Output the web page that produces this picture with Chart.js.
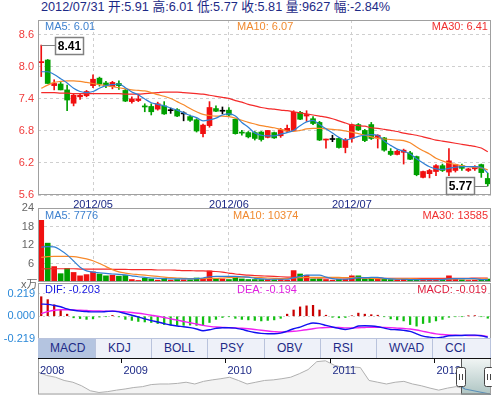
<!DOCTYPE html>
<html>
<head>
<meta charset="utf-8">
<script src="https://cdn.jsdelivr.net/npm/chart.js@4.4.1/dist/chart.umd.min.js"></script>
<style>
  body { margin: 0; background: #fff; }
  #wrap { position: relative; width: 492px; height: 396px; overflow: hidden;
          font-family: "Liberation Sans", Arial, "Noto Sans CJK SC", sans-serif; }
  #wrap canvas { position: absolute; left: 0; }
  .lbl { position: absolute; font-size: 11px; line-height: 11px; white-space: nowrap; }
  #head { position: absolute; left: 41px; top: 1px; font-size: 12.7px; line-height: 13px;
          color: #1d2a86; white-space: nowrap; }
  #tabs { position: absolute; left: 38px; top: 338px; height: 19px; display: flex;
          border-top: 1px solid #b9c3dc; background: #eef1f9; }
  #tabs div { box-sizing: border-box; height: 19px; padding-left: 12px; font-size: 12px;
              line-height: 19px; color: #1d2a86; border-right: 1px solid #b9c3dc; }
  #tabs div.on { background: #b4c4e0; }
</style>
</head>
<body>
<div id="wrap">
  <div id="head">2012/07/31 开:5.91 高:6.01 低:5.77 收:5.81 量:9627 幅:-2.84%</div>
  <canvas id="price" width="492" height="195" style="top:14px"></canvas>
  <canvas id="vol" width="492" height="84" style="top:200px"></canvas>
  <canvas id="macd" width="492" height="66" style="top:278px"></canvas>
  <canvas id="nav" width="492" height="37" style="top:358px"></canvas>
  <div class="lbl" style="left:45px;top:21px;color:#3f82cf">MA5: 6.01</div>
  <div class="lbl" style="left:237px;top:21px;color:#f08a30">MA10: 6.07</div>
  <div class="lbl" style="right:4px;top:21px;color:#f03030">MA30: 6.41</div>
  <div class="lbl" style="left:45px;top:210px;color:#3f82cf">MA5: 7776</div>
  <div class="lbl" style="left:233px;top:210px;color:#f08a30">MA10: 10374</div>
  <div class="lbl" style="right:4px;top:210px;color:#f03030">MA30: 13585</div>
  <div class="lbl" style="left:21px;top:279px;color:#666">x万</div>
  <div class="lbl" style="left:45px;top:284px;color:#1515e0">DIF: -0.203</div>
  <div class="lbl" style="left:237px;top:284px;color:#e020e0">DEA: -0.194</div>
  <div class="lbl" style="right:5px;top:284px;color:#e02040">MACD: -0.019</div>
  <div id="tabs"></div>
</div>
<script>
// trading days shown, grouped by month
const months = ['2012/04', '2012/05', '2012/06', '2012/07'];
const tradingDays = [8, 21, 19, 22];

const opens  = [8.08, 8.13, 7.65, 7.68, 7.57, 7.32, 7.44, 7.46, 7.65, 7.79, 7.70, 7.63, 7.69, 7.56, 7.35, 7.37, 7.27, 7.26, 7.21, 7.27,
                7.18, 7.20, 7.12, 7.07, 7.01, 6.75, 6.90, 7.22, 7.17, 7.19, 7.02, 6.77, 6.77, 6.77, 6.78, 6.68, 6.77, 6.71, 6.80, 6.81,
                7.15, 7.08, 7.03, 6.96, 6.63, 6.64, 6.66, 6.49, 6.66, 6.92, 6.81, 6.92, 6.68, 6.67, 6.42, 6.36, 6.40, 6.39, 6.32, 5.93,
                6.00, 6.04, 6.15, 6.03, 6.06, 6.15, 6.06, 6.09, 6.17, 5.91];
const highs  = [8.41, 8.14, 7.76, 7.71, 7.66, 7.50, 7.50, 7.56, 7.85, 7.81, 7.73, 7.73, 7.74, 7.58, 7.44, 7.49, 7.31, 7.31, 7.34, 7.35,
                7.23, 7.22, 7.16, 7.10, 7.03, 6.93, 7.35, 7.27, 7.25, 7.24, 7.03, 6.81, 6.79, 6.79, 6.79, 6.81, 6.78, 6.85, 6.91, 7.18,
                7.17, 7.18, 7.07, 6.98, 6.65, 6.72, 6.67, 6.66, 6.93, 6.94, 6.83, 6.96, 6.73, 6.68, 6.47, 6.44, 6.46, 6.42, 6.33, 6.05,
                6.08, 6.17, 6.18, 6.47, 6.18, 6.18, 6.10, 6.15, 6.18, 6.01];
const lows   = [7.82, 7.69, 7.57, 7.57, 7.18, 7.27, 7.39, 7.44, 7.61, 7.64, 7.61, 7.59, 7.58, 7.35, 7.32, 7.35, 7.16, 7.10, 7.19, 7.11,
                7.13, 7.07, 6.99, 6.98, 6.78, 6.69, 6.87, 7.16, 7.12, 7.08, 6.74, 6.72, 6.67, 6.63, 6.61, 6.67, 6.66, 6.68, 6.77, 6.81,
                7.01, 6.98, 6.92, 6.62, 6.48, 6.60, 6.48, 6.39, 6.59, 6.81, 6.60, 6.64, 6.48, 6.42, 6.34, 6.35, 6.18, 6.26, 5.96, 5.92,
                5.92, 5.96, 6.04, 5.96, 6.03, 6.06, 6.04, 6.06, 5.93, 5.77];
const closes = [8.10, 7.69, 7.69, 7.57, 7.38, 7.47, 7.47, 7.54, 7.77, 7.68, 7.65, 7.71, 7.65, 7.36, 7.40, 7.40, 7.25, 7.16, 7.31, 7.12,
                7.18, 7.08, 7.12, 7.00, 6.80, 6.91, 7.24, 7.17, 7.17, 7.10, 6.75, 6.76, 6.69, 6.66, 6.64, 6.81, 6.67, 6.82, 6.85, 7.15,
                7.02, 7.11, 6.94, 6.63, 6.64, 6.64, 6.49, 6.63, 6.92, 6.82, 6.62, 6.66, 6.72, 6.44, 6.36, 6.42, 6.44, 6.27, 5.98, 6.04,
                6.06, 6.15, 6.06, 6.24, 6.17, 6.10, 6.09, 6.13, 6.02, 5.81];

const ma5  = [7.91, 7.91, 7.86, 7.78, 7.70, 7.60, 7.54, 7.52, 7.54, 7.60, 7.65, 7.67, 7.68, 7.61, 7.53, 7.48, 7.40, 7.33, 7.30, 7.27,
              7.23, 7.19, 7.14, 7.09, 7.05, 6.99, 7.01, 7.04, 7.10, 7.12, 7.08, 6.96, 6.87, 6.76, 6.72, 6.71, 6.71, 6.74, 6.77, 6.81,
              6.90, 6.97, 7.00, 6.92, 6.84, 6.76, 6.68, 6.63, 6.66, 6.70, 6.72, 6.73, 6.72, 6.61, 6.53, 6.46, 6.42, 6.37, 6.28, 6.20,
              6.13, 6.09, 6.08, 6.10, 6.12, 6.13, 6.13, 6.13, 6.12, 6.01];
const ma10 = [7.60, 7.66, 7.71, 7.73, 7.74, 7.74, 7.73, 7.71, 7.69, 7.67, 7.65, 7.63, 7.61, 7.59, 7.57, 7.56, 7.55, 7.52, 7.48, 7.45,
              7.41, 7.35, 7.29, 7.22, 7.16, 7.11, 7.09, 7.08, 7.08, 7.07, 7.04, 7.00, 6.96, 6.93, 6.90, 6.88, 6.86, 6.83, 6.80, 6.79,
              6.81, 6.84, 6.85, 6.85, 6.84, 6.83, 6.82, 6.80, 6.78, 6.75, 6.72, 6.69, 6.66, 6.65, 6.64, 6.63, 6.62, 6.58, 6.50, 6.43,
              6.37, 6.29, 6.24, 6.20, 6.17, 6.15, 6.13, 6.12, 6.11, 6.07];
const ma30 = [7.52, 7.52, 7.52, 7.51, 7.51, 7.50, 7.50, 7.50, 7.50, 7.50, 7.50, 7.50, 7.50, 7.49, 7.49, 7.49, 7.50, 7.51, 7.52, 7.53,
              7.53, 7.53, 7.52, 7.51, 7.50, 7.49, 7.47, 7.45, 7.43, 7.41, 7.37, 7.34, 7.30, 7.27, 7.24, 7.22, 7.21, 7.19, 7.18, 7.16,
              7.14, 7.12, 7.10, 7.08, 7.06, 7.03, 6.99, 6.95, 6.91, 6.90, 6.89, 6.86, 6.85, 6.83, 6.81, 6.79, 6.76, 6.74, 6.72, 6.69,
              6.66, 6.63, 6.61, 6.59, 6.57, 6.55, 6.53, 6.51, 6.48, 6.41];

// volume, in 万
const volume = [20.0, 12.6, 5.0, 2.7, 4.4, 3.1, 2.0, 2.4, 3.3, 2.6, 2.0, 2.2, 1.9, 2.1, 0.8, 0.5, 1.2, 1.0, 0.6, 1.2,
                0.6, 0.8, 0.7, 0.7, 1.3, 1.0, 3.6, 1.2, 1.0, 0.8, 1.8, 1.0, 0.8, 0.8, 0.8, 0.8, 0.7, 0.8, 0.6, 3.7,
                2.6, 2.2, 1.0, 1.0, 0.8, 0.6, 0.9, 0.9, 2.0, 2.0, 1.0, 1.2, 0.9, 1.0, 0.8, 0.7, 0.9, 0.8, 1.0, 0.7,
                0.6, 0.8, 0.8, 2.0, 1.2, 0.7, 0.5, 0.6, 0.8, 0.96];
const volMa5  = [11.3, 11.5, 11.4, 10.3, 8.8, 6.8, 4.8, 3.6, 3.2, 3.0, 2.8, 2.6, 2.5, 2.3, 2.0, 1.7, 1.5, 1.3, 1.2, 1.1,
                 1.0, 1.0, 1.0, 1.0, 1.1, 1.3, 1.7, 1.8, 1.8, 1.8, 1.8, 1.7, 1.6, 1.2, 1.0, 0.9, 0.9, 0.9, 0.9, 1.4,
                 1.8, 2.2, 2.2, 2.2, 1.6, 1.1, 0.9, 0.9, 1.1, 1.4, 1.4, 1.5, 1.5, 1.2, 1.0, 0.9, 0.9, 0.8, 0.8, 0.8,
                 0.8, 0.8, 0.8, 1.0, 1.1, 1.1, 1.1, 1.1, 0.8, 0.78];
const volMa10 = [8.0, 8.2, 8.3, 8.3, 8.3, 8.2, 7.9, 7.5, 6.9, 6.0, 5.0, 4.0, 3.3, 2.9, 2.6, 2.4, 2.2, 2.0, 1.8, 1.6,
                 1.4, 1.3, 1.2, 1.1, 1.1, 1.1, 1.2, 1.2, 1.3, 1.4, 1.5, 1.6, 1.6, 1.5, 1.4, 1.3, 1.2, 1.1, 1.1, 1.3,
                 1.4, 1.5, 1.5, 1.5, 1.5, 1.5, 1.5, 1.4, 1.4, 1.5, 1.4, 1.2, 1.1, 1.1, 1.1, 1.1, 1.1, 1.1, 1.0, 0.9,
                 0.9, 0.9, 0.9, 0.9, 1.0, 1.0, 1.0, 1.0, 1.0, 1.0];
const volMa30 = [4.2, 4.3, 4.3, 4.3, 4.3, 4.3, 4.2, 4.2, 4.2, 4.2, 4.2, 4.1, 4.1, 4.1, 4.0, 4.0, 4.0, 4.0, 3.9, 3.9,
                 3.9, 3.8, 3.7, 3.7, 3.6, 3.6, 3.5, 3.4, 3.2, 2.9, 2.6, 2.4, 2.2, 2.1, 2.0, 1.9, 1.8, 1.7, 1.6, 1.5,
                 1.4, 1.4, 1.4, 1.3, 1.3, 1.3, 1.3, 1.3, 1.3, 1.3, 1.3, 1.3, 1.3, 1.2, 1.2, 1.2, 1.2, 1.2, 1.2, 1.2,
                 1.2, 1.2, 1.2, 1.2, 1.2, 1.2, 1.2, 1.3, 1.3, 1.3];

const dif  = [0.117, 0.114, 0.104, 0.091, 0.071, 0.058, 0.049, 0.045, 0.042, 0.042, 0.045, 0.049, 0.042, 0.026, 0.010, -0.006, -0.026, -0.042, -0.055, -0.071,
              -0.084, -0.094, -0.101, -0.110, -0.123, -0.139, -0.130, -0.117, -0.110, -0.110, -0.114, -0.127, -0.143, -0.156, -0.165, -0.169, -0.169, -0.162, -0.143, -0.120,
              -0.104, -0.081, -0.065, -0.071, -0.088, -0.104, -0.117, -0.127, -0.117, -0.094, -0.091, -0.094, -0.101, -0.114, -0.127, -0.130, -0.136, -0.146, -0.169, -0.191,
              -0.201, -0.208, -0.201, -0.188, -0.185, -0.185, -0.182, -0.182, -0.188, -0.203];
const dea  = [0.026, 0.045, 0.058, 0.062, 0.062, 0.060, 0.058, 0.055, 0.052, 0.050, 0.049, 0.048, 0.047, 0.042, 0.036, 0.029, 0.020, 0.010, 0.000, -0.012,
              -0.025, -0.037, -0.050, -0.062, -0.075, -0.088, -0.097, -0.104, -0.107, -0.110, -0.112, -0.115, -0.120, -0.127, -0.135, -0.142, -0.148, -0.152, -0.150, -0.145,
              -0.138, -0.130, -0.120, -0.112, -0.108, -0.107, -0.108, -0.112, -0.113, -0.111, -0.108, -0.106, -0.106, -0.107, -0.110, -0.114, -0.118, -0.123, -0.132, -0.145,
              -0.158, -0.170, -0.176, -0.180, -0.183, -0.184, -0.185, -0.185, -0.186, -0.194];
const macdHist = [0.188, 0.160, 0.110, 0.060, 0.020, -0.015, -0.022, -0.030, -0.025, -0.008, -0.004, 0.008, -0.006, -0.030, -0.040, -0.050, -0.055, -0.060, -0.070, -0.080,
                  -0.085, -0.088, -0.088, -0.085, -0.088, -0.090, -0.060, -0.030, -0.012, -0.005, -0.020, -0.030, -0.035, -0.040, -0.045, -0.040, -0.035, -0.020, 0.020, 0.060,
                  0.090, 0.100, 0.105, 0.060, 0.010, -0.010, -0.015, -0.012, 0.005, 0.030, 0.020, 0.015, 0.010, -0.005, -0.025, -0.035, -0.045, -0.080, -0.095, -0.070,
                  -0.060, -0.045, -0.030, -0.010, -0.005, -0.004, 0.004, 0.006, -0.004, -0.019];

const priceTicks = [5.6, 6.2, 6.8, 7.4, 8.0, 8.6];
const volTicks = [0, 6, 12, 18, 24];
const macdTicks = [-0.219, 0, 0.219];
const tabNames = ['MACD', 'KDJ', 'BOLL', 'PSY', 'OBV', 'RSI', 'WVAD', 'CCI'];
const tabWidths = [58, 56, 56, 57, 56, 56, 56, 58];

// overview strip: monthly close from 2008/03 to 2012/07
const navStart = [2008, 3];
const navClose = [13.4, 12.2, 11.6, 10.5, 9.9, 8.7, 7.0, 6.4, 6.7, 7.2, 7.6, 8.1, 8.4, 9.1, 9.3, 9.3, 9.5, 9.9, 9.3, 10.2,
                  10.7, 11.1, 11.6, 10.5, 9.3, 9.9, 10.5, 10.7, 11.1, 11.6, 12.8, 14.2, 16.9, 17.2, 15.7, 14.9, 15.1, 14.9, 10.5, 9.9,
                  9.3, 9.9, 10.2, 9.3, 8.7, 7.9, 7.2, 7.9, 8.4, 7.6, 7.0, 6.4, 5.8];
const navWindowStart = 48.6;

const RED = '#f01010', GREEN = '#00a000', BLACK = '#000';
const categories = [];
months.forEach((m, k) => { for (let d = 0; d < tradingDays[k]; d++) categories.push(m); });
const isMonthStart = i => i > 0 && categories[i] !== categories[i - 1];
const candleColors = closes.map((c, i) => c > opens[i] ? RED : c < opens[i] ? GREEN : BLACK);
const volColors = closes.map((c, i) => c >= opens[i] ? RED : GREEN);

Chart.defaults.font.family = '"Liberation Sans", Arial, sans-serif';
Chart.defaults.font.size = 11;

const noPad = w => s => { s.width = w; s.paddingTop = 0; s.paddingBottom = 0; };
const hideX = s => { s.height = 0; s.paddingLeft = 0; s.paddingRight = 0; };
const base = {
    responsive: false, animation: false, events: [], devicePixelRatio: 1,
    plugins: { legend: { display: false }, tooltip: { enabled: false } }
};

const frame = {
    id: 'frame',
    afterDraw(chart) {
        const { ctx, chartArea: a } = chart;
        ctx.save();
        ctx.strokeStyle = '#a0a0a0';
        ctx.lineWidth = 1;
        ctx.strokeRect(Math.round(a.left) + 0.5, Math.round(a.top) + 0.5,
            Math.round(a.right - a.left) - 1, Math.round(a.bottom - a.top) - 1);
        ctx.restore();
    }
};

function drawMark(ctx, px, py, text, dir) {
    ctx.save();
    ctx.font = 'bold 12px "Liberation Sans", Arial';
    const w = Math.round(ctx.measureText(text).width) + 5, h = 17;
    const bx = Math.round(dir > 0 ? px + 14 : px - 14 - w) + 0.5;
    const by = Math.round(py - h / 2) + 0.5;
    ctx.strokeStyle = '#808080';
    ctx.lineWidth = 1;
    ctx.beginPath();
    ctx.moveTo(px, Math.round(py) + 0.5);
    ctx.lineTo(dir > 0 ? bx : bx + w, Math.round(py) + 0.5);
    ctx.stroke();
    ctx.fillStyle = '#fff';
    ctx.fillRect(bx, by, w, h);
    ctx.lineWidth = 1.5;
    ctx.strokeRect(bx, by, w, h);
    ctx.fillStyle = '#000';
    ctx.textBaseline = 'middle';
    ctx.textAlign = 'center';
    ctx.fillText(text, bx + w / 2, by + h / 2 + 1);
    ctx.restore();
}

const marks = {
    id: 'marks',
    afterDraw(chart) {
        const { ctx, scales: { x, y } } = chart;
        const hi = Math.max(...highs), lo = Math.min(...lows);
        drawMark(ctx, x.getPixelForValue(highs.indexOf(hi)), y.getPixelForValue(hi), hi.toFixed(2), 1);
        drawMark(ctx, x.getPixelForValue(lows.indexOf(lo)), y.getPixelForValue(lo), lo.toFixed(2), -1);
    }
};

const monthGrid = c => isMonthStart(c.index) ? '#cfcfcf' : 'rgba(0,0,0,0)';
const line = (data, color) => ({
    type: 'line', data, borderColor: color, borderWidth: 1.2, pointRadius: 0,
    cubicInterpolationMode: 'monotone', order: 0
});

// price panel
new Chart(document.getElementById('price'), {
    type: 'bar',
    data: {
        labels: categories,
        datasets: [
            line(ma5, '#2f7fd4'),
            line(ma10, '#f7892b'),
            line(ma30, '#f42a2a'),
            { data: opens.map((o, i) => [o, closes[i]]), backgroundColor: candleColors,
              barThickness: 5, minBarLength: 1, grouped: false, order: 1 },
            { data: lows.map((l, i) => [l, highs[i]]), backgroundColor: candleColors,
              barThickness: 1, grouped: false, order: 2 }
        ]
    },
    options: {
        ...base,
        layout: { padding: { top: 6, right: 1, bottom: 0, left: 0 } },
        scales: {
            x: {
                grid: { offset: false, drawTicks: false, color: monthGrid },
                border: { display: false, dash: [3, 3] },
                ticks: { autoSkip: false, maxRotation: 0, padding: 3, color: '#1d2a86',
                         callback: (v, i) => isMonthStart(i) ? categories[i] : '' },
                afterFit: s => { s.height = 14; s.paddingLeft = 0; s.paddingRight = 0; }
            },
            y: {
                min: 5.6, max: 8.88,
                afterBuildTicks: s => { s.ticks = priceTicks.map(v => ({ value: v })); },
                grid: { drawTicks: false, color: '#cfcfcf' },
                border: { display: false, dash: [3, 3] },
                ticks: { padding: 4, color: '#f03a3a', callback: v => v.toFixed(1) },
                afterFit: noPad(38)
            }
        }
    },
    plugins: [frame, marks]
});

// volume panel
new Chart(document.getElementById('vol'), {
    type: 'bar',
    data: {
        labels: categories,
        datasets: [
            line(volMa5, '#2f7fd4'),
            line(volMa10, '#f7892b'),
            line(volMa30, '#f42a2a'),
            { data: volume, backgroundColor: volColors, barThickness: 5, order: 1 }
        ]
    },
    options: {
        ...base,
        layout: { padding: { top: 8, right: 1, bottom: 2, left: 0 } },
        scales: {
            x: {
                grid: { offset: false, drawTicks: false, color: monthGrid },
                border: { display: false, dash: [3, 3] },
                ticks: { display: false },
                afterFit: hideX
            },
            y: {
                min: 0, max: 24,
                afterBuildTicks: s => { s.ticks = volTicks.map(v => ({ value: v })); },
                grid: { drawTicks: false, color: c => (c.tick && c.tick.value > 0 && c.tick.value < 24) ? '#cfcfcf' : 'rgba(0,0,0,0)' },
                border: { display: false, dash: [3, 3] },
                ticks: { padding: 4, color: '#666', callback: v => v === 0 ? '' : v },
                afterFit: noPad(38)
            }
        }
    },
    plugins: [frame]
});

// MACD panel
new Chart(document.getElementById('macd'), {
    type: 'bar',
    data: {
        labels: categories,
        datasets: [
            { type: 'line', data: dif, borderColor: '#1010f0', borderWidth: 1.4, pointRadius: 0,
              cubicInterpolationMode: 'monotone', order: 0 },
            { type: 'line', data: dea, borderColor: '#f020f0', borderWidth: 1.4, pointRadius: 0,
              cubicInterpolationMode: 'monotone', order: 0 },
            { data: macdHist, backgroundColor: macdHist.map(v => v >= 0 ? '#c80000' : '#10c010'),
              barThickness: 1.6, order: 1 }
        ]
    },
    options: {
        ...base,
        layout: { padding: { top: 5, right: 1, bottom: 5, left: 0 } },
        scales: {
            x: { display: false },
            y: {
                min: -0.219, max: 0.32,
                afterBuildTicks: s => { s.ticks = macdTicks.map(v => ({ value: v })); },
                grid: { drawTicks: false, color: c => (c.tick && c.tick.value > -0.2) ? '#d0d0d0' : 'rgba(0,0,0,0)' },
                border: { display: false, dash: [2, 3] },
                ticks: { padding: 3, color: '#2a88d8', callback: v => v.toFixed(3) },
                afterFit: noPad(38)
            }
        }
    },
    plugins: [frame]
});

// overview strip
const navLabels = navClose.map((_, k) => {
    const m = navStart[1] - 1 + k;
    return (navStart[0] + Math.floor(m / 12)) + '/' + String(m % 12 + 1).padStart(2, '0');
});
const navDeco = {
    id: 'navDeco',
    afterDraw(chart) {
        const { ctx, chartArea: a, scales: { x, y } } = chart;
        ctx.save();
        // selected window
        const wx = x.getPixelForValue(navWindowStart);
        const g = ctx.createLinearGradient(0, a.top, 0, a.bottom);
        g.addColorStop(0, '#f2f6f5');
        g.addColorStop(1, '#adc4c2');
        ctx.fillStyle = g;
        ctx.fillRect(wx, a.top, a.right - wx, a.bottom - a.top);
        ctx.strokeStyle = '#5b8fb8';
        ctx.lineWidth = 1.2;
        ctx.beginPath();
        for (let k = Math.floor(navWindowStart); k < navClose.length; k++) {
            const px = Math.max(wx, x.getPixelForValue(k)), py = y.getPixelForValue(navClose[k]);
            k === Math.floor(navWindowStart) ? ctx.moveTo(px, py) : ctx.lineTo(px, py);
        }
        ctx.stroke();
        ctx.strokeStyle = '#555';
        ctx.lineWidth = 1;
        ctx.strokeRect(Math.round(wx) + 0.5, a.top + 0.5, Math.round(a.right - wx) - 1, a.bottom - a.top - 1.5);
        // frame
        ctx.strokeStyle = '#a0a0a0';
        ctx.strokeRect(a.left + 0.5, a.top + 0.5, a.right - a.left - 1, a.bottom - a.top - 1.5);
        ctx.strokeStyle = '#111';
        ctx.beginPath();
        ctx.moveTo(a.left, a.top + 0.5);
        ctx.lineTo(a.right, a.top + 0.5);
        ctx.stroke();
        // years
        ctx.font = '11px "Liberation Sans", Arial';
        ctx.fillStyle = '#1d2a86';
        ctx.textBaseline = 'top';
        navLabels.forEach((lab, k) => {
            if (k === 0 || lab.endsWith('/01')) {
                const px = k === 0 ? a.left : Math.round(x.getPixelForValue(k - 0.5)) + 0.5;
                if (k > 0) {
                    ctx.strokeStyle = '#111';
                    ctx.beginPath();
                    ctx.moveTo(px, a.top);
                    ctx.lineTo(px, a.top + 5);
                    ctx.stroke();
                }
                ctx.fillText(lab.slice(0, 4), px + 2, a.top + 7);
            }
        });
        // handles
        [wx, a.right - 2].forEach(hx => {
            const hxR = Math.round(hx) - 4.5;
            ctx.fillStyle = '#fff';
            ctx.strokeStyle = '#444';
            ctx.beginPath();
            ctx.roundRect(hxR, a.top + 9.5, 9, 19, 2);
            ctx.fill();
            ctx.stroke();
            ctx.beginPath();
            ctx.moveTo(hxR + 3, a.top + 16); ctx.lineTo(hxR + 3, a.top + 22);
            ctx.moveTo(hxR + 6, a.top + 16); ctx.lineTo(hxR + 6, a.top + 22);
            ctx.stroke();
        });
        ctx.restore();
    }
};
new Chart(document.getElementById('nav'), {
    type: 'line',
    data: {
        labels: navLabels,
        datasets: [{ data: navClose, borderColor: '#b0b0b0', borderWidth: 1, pointRadius: 0,
                     fill: 'start', backgroundColor: '#f3f3f3' }]
    },
    options: {
        ...base,
        layout: { padding: { top: 0, right: 1, bottom: 0, left: 38 } },
        scales: {
            x: { display: false },
            y: { display: false, min: 5.55, max: 18.15 }
        }
    },
    plugins: [navDeco]
});

// indicator tabs
const tabs = document.getElementById('tabs');
tabNames.forEach((n, k) => {
    const d = document.createElement('div');
    d.textContent = n;
    d.style.width = tabWidths[k] + 'px';
    if (k === 0) d.className = 'on';
    tabs.appendChild(d);
});
</script>
</body>
</html>
